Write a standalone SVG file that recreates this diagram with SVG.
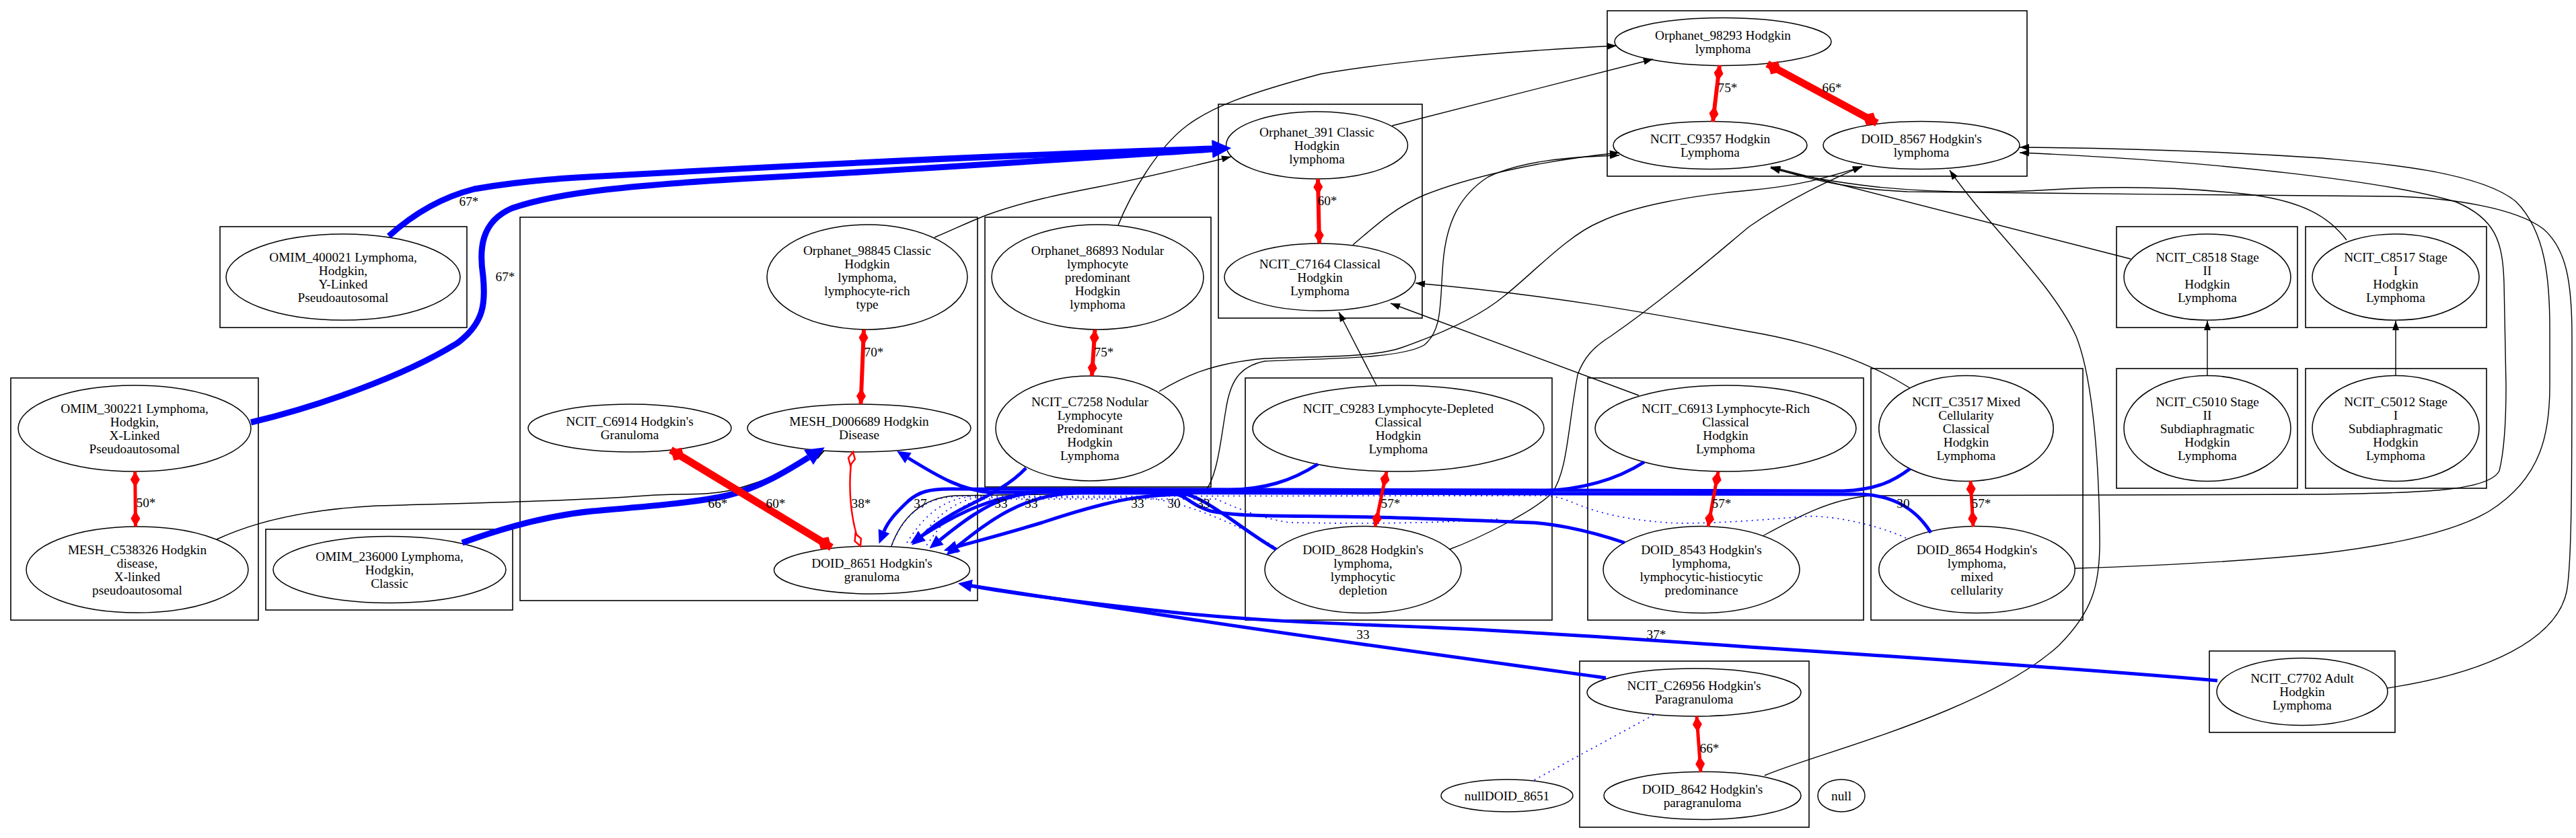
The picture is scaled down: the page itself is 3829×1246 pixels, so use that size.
<svg xmlns="http://www.w3.org/2000/svg" width="3829" height="1246" viewBox="0 0 3829 1246">
<style>
.cl{fill:none;stroke:#000;stroke-width:1.6}
.n ellipse{fill:none;stroke:#000;stroke-width:1.5}
text{font-family:"Liberation Serif","Times New Roman",serif;font-size:19.3px;text-anchor:middle;fill:#000}
.k{fill:none;stroke:#000;stroke-width:1.4;marker-end:url(#ak)}
.b{fill:none;stroke:#0000ff;stroke-width:5;marker-end:url(#ab)}
.bb{fill:none;stroke:#0000ff;stroke-width:9;marker-end:url(#abb)}
.bn{fill:none;stroke:#0000ff;stroke-width:5}
.d{fill:none;stroke:#0000ff;stroke-width:1.6;stroke-dasharray:2 6}
.r{fill:none;stroke:#ff0000;stroke-width:6;marker-start:url(#ds);marker-end:url(#de)}
.rt{fill:none;stroke:#ff0000;stroke-width:11;marker-start:url(#dts);marker-end:url(#dte)}
.ro{fill:none;stroke:#ff0000;stroke-width:2.5;marker-start:url(#dos);marker-end:url(#doe)}
</style>
<defs>
<marker id="ak" markerUnits="userSpaceOnUse" orient="auto" refX="14" refY="0" markerWidth="16" markerHeight="12" overflow="visible"><path d="M0,-5 L14,0 L0,5 Z" fill="#000"/></marker>
<marker id="ab" markerUnits="userSpaceOnUse" orient="auto" refX="0" refY="0" markerWidth="22" markerHeight="20" overflow="visible"><path d="M0,-9 L20,0 L0,9 Z" fill="#0000ff"/></marker>
<marker id="abb" markerUnits="userSpaceOnUse" orient="auto" refX="0" refY="0" markerWidth="30" markerHeight="28" overflow="visible"><path d="M0,-13 L28,0 L0,13 Z" fill="#0000ff"/></marker>
<marker id="ds" markerUnits="userSpaceOnUse" orient="auto" refX="0" refY="0" markerWidth="26" markerHeight="16" overflow="visible"><path d="M0,0 L12,-7 L24,0 L12,7 Z" fill="#ff0000"/></marker>
<marker id="de" markerUnits="userSpaceOnUse" orient="auto" refX="24" refY="0" markerWidth="26" markerHeight="16" overflow="visible"><path d="M0,0 L12,-7 L24,0 L12,7 Z" fill="#ff0000"/></marker>
<marker id="dts" markerUnits="userSpaceOnUse" orient="auto" refX="0" refY="0" markerWidth="26" markerHeight="26" overflow="visible"><path d="M0,0 L12,-11 L24,0 L12,11 Z" fill="#ff0000"/></marker>
<marker id="dte" markerUnits="userSpaceOnUse" orient="auto" refX="24" refY="0" markerWidth="26" markerHeight="26" overflow="visible"><path d="M0,0 L12,-11 L24,0 L12,11 Z" fill="#ff0000"/></marker>
<marker id="dos" markerUnits="userSpaceOnUse" orient="auto" refX="0" refY="0" markerWidth="24" markerHeight="14" overflow="visible"><path d="M0,0 L10,-5 L20,0 L10,5 Z" fill="#fff" stroke="#ff0000" stroke-width="2.5"/></marker>
<marker id="doe" markerUnits="userSpaceOnUse" orient="auto" refX="20" refY="0" markerWidth="24" markerHeight="14" overflow="visible"><path d="M0,0 L10,-5 L20,0 L10,5 Z" fill="#fff" stroke="#ff0000" stroke-width="2.5"/></marker>
</defs>
<rect width="3829" height="1246" fill="#fff"/>
<g id="clusters">
<rect class="cl" x="2389" y="16" width="624" height="246"/>
<rect class="cl" x="1811" y="155" width="303" height="318"/>
<rect class="cl" x="327" y="337" width="367" height="150"/>
<rect class="cl" x="16" y="562" width="368" height="360"/>
<rect class="cl" x="395" y="787" width="367" height="120"/>
<rect class="cl" x="773" y="323" width="680" height="570"/>
<rect class="cl" x="1464" y="323" width="336" height="401"/>
<rect class="cl" x="1851" y="562" width="456" height="360"/>
<rect class="cl" x="2360" y="562" width="410" height="360"/>
<rect class="cl" x="2781" y="548" width="315" height="374"/>
<rect class="cl" x="3146" y="337" width="269" height="150"/>
<rect class="cl" x="3427" y="337" width="269" height="150"/>
<rect class="cl" x="3146" y="548" width="269" height="178"/>
<rect class="cl" x="3427" y="548" width="269" height="178"/>
<rect class="cl" x="3284" y="968" width="276" height="121"/>
<rect class="cl" x="2348" y="983" width="341" height="247"/>
</g>
<g id="nodes">
<g id="Orphanet_98293" class="n"><ellipse cx="2561" cy="62" rx="161" ry="35.5"/><text x="2561" y="58.5">Orphanet_98293 Hodgkin<tspan x="2561" dy="20">lymphoma</tspan></text></g>
<g id="NCIT_C9357" class="n"><ellipse cx="2542" cy="216" rx="144" ry="35.5"/><text x="2542" y="212.5">NCIT_C9357 Hodgkin<tspan x="2542" dy="20">Lymphoma</tspan></text></g>
<g id="DOID_8567" class="n"><ellipse cx="2856" cy="216" rx="146" ry="35.5"/><text x="2856" y="212.5">DOID_8567 Hodgkin's<tspan x="2856" dy="20">lymphoma</tspan></text></g>
<g id="Orphanet_391" class="n"><ellipse cx="1957.5" cy="216" rx="135" ry="50"/><text x="1957.5" y="202.5">Orphanet_391 Classic<tspan x="1957.5" dy="20">Hodgkin</tspan><tspan x="1957.5" dy="20">lymphoma</tspan></text></g>
<g id="NCIT_C7164" class="n"><ellipse cx="1962" cy="412" rx="142" ry="50"/><text x="1962" y="398.5">NCIT_C7164 Classical<tspan x="1962" dy="20">Hodgkin</tspan><tspan x="1962" dy="20">Lymphoma</tspan></text></g>
<g id="OMIM_400021" class="n"><ellipse cx="510" cy="412" rx="174" ry="64"/><text x="510" y="388.5">OMIM_400021 Lymphoma,<tspan x="510" dy="20">Hodgkin,</tspan><tspan x="510" dy="20">Y-Linked</tspan><tspan x="510" dy="20">Pseudoautosomal</tspan></text></g>
<g id="OMIM_300221" class="n"><ellipse cx="200" cy="637" rx="173" ry="64"/><text x="200" y="613.5">OMIM_300221 Lymphoma,<tspan x="200" dy="20">Hodgkin,</tspan><tspan x="200" dy="20">X-Linked</tspan><tspan x="200" dy="20">Pseudoautosomal</tspan></text></g>
<g id="MESH_C538326" class="n"><ellipse cx="204" cy="847" rx="165" ry="64"/><text x="204" y="823.5">MESH_C538326 Hodgkin<tspan x="204" dy="20">disease,</tspan><tspan x="204" dy="20">X-linked</tspan><tspan x="204" dy="20">pseudoautosomal</tspan></text></g>
<g id="OMIM_236000" class="n"><ellipse cx="579" cy="847" rx="173" ry="49.5"/><text x="579" y="833.5">OMIM_236000 Lymphoma,<tspan x="579" dy="20">Hodgkin,</tspan><tspan x="579" dy="20">Classic</tspan></text></g>
<g id="Orphanet_98845" class="n"><ellipse cx="1289" cy="412" rx="149" ry="78"/><text x="1289" y="378.5">Orphanet_98845 Classic<tspan x="1289" dy="20">Hodgkin</tspan><tspan x="1289" dy="20">lymphoma,</tspan><tspan x="1289" dy="20">lymphocyte-rich</tspan><tspan x="1289" dy="20">type</tspan></text></g>
<g id="NCIT_C6914" class="n"><ellipse cx="936" cy="636.5" rx="151" ry="35.5"/><text x="936" y="633">NCIT_C6914 Hodgkin's<tspan x="936" dy="20">Granuloma</tspan></text></g>
<g id="MESH_D006689" class="n"><ellipse cx="1277" cy="636.5" rx="166" ry="35.5"/><text x="1277" y="633">MESH_D006689 Hodgkin<tspan x="1277" dy="20">Disease</tspan></text></g>
<g id="DOID_8651" class="n"><ellipse cx="1296" cy="847.5" rx="145.5" ry="35.5"/><text x="1296" y="844">DOID_8651 Hodgkin's<tspan x="1296" dy="20">granuloma</tspan></text></g>
<g id="Orphanet_86893" class="n"><ellipse cx="1631.5" cy="412" rx="157.5" ry="78"/><text x="1631.5" y="378.5">Orphanet_86893 Nodular<tspan x="1631.5" dy="20">lymphocyte</tspan><tspan x="1631.5" dy="20">predominant</tspan><tspan x="1631.5" dy="20">Hodgkin</tspan><tspan x="1631.5" dy="20">lymphoma</tspan></text></g>
<g id="NCIT_C7258" class="n"><ellipse cx="1620" cy="637" rx="140" ry="78"/><text x="1620" y="603.5">NCIT_C7258 Nodular<tspan x="1620" dy="20">Lymphocyte</tspan><tspan x="1620" dy="20">Predominant</tspan><tspan x="1620" dy="20">Hodgkin</tspan><tspan x="1620" dy="20">Lymphoma</tspan></text></g>
<g id="NCIT_C9283" class="n"><ellipse cx="2078.5" cy="637" rx="216.5" ry="64"/><text x="2078.5" y="613.5">NCIT_C9283 Lymphocyte-Depleted<tspan x="2078.5" dy="20">Classical</tspan><tspan x="2078.5" dy="20">Hodgkin</tspan><tspan x="2078.5" dy="20">Lymphoma</tspan></text></g>
<g id="DOID_8628" class="n"><ellipse cx="2026" cy="847" rx="146" ry="64.5"/><text x="2026" y="823.5">DOID_8628 Hodgkin's<tspan x="2026" dy="20">lymphoma,</tspan><tspan x="2026" dy="20">lymphocytic</tspan><tspan x="2026" dy="20">depletion</tspan></text></g>
<g id="NCIT_C6913" class="n"><ellipse cx="2565" cy="637" rx="194" ry="64"/><text x="2565" y="613.5">NCIT_C6913 Lymphocyte-Rich<tspan x="2565" dy="20">Classical</tspan><tspan x="2565" dy="20">Hodgkin</tspan><tspan x="2565" dy="20">Lymphoma</tspan></text></g>
<g id="DOID_8543" class="n"><ellipse cx="2529" cy="847" rx="146" ry="64.5"/><text x="2529" y="823.5">DOID_8543 Hodgkin's<tspan x="2529" dy="20">lymphoma,</tspan><tspan x="2529" dy="20">lymphocytic-histiocytic</tspan><tspan x="2529" dy="20">predominance</tspan></text></g>
<g id="NCIT_C3517" class="n"><ellipse cx="2922.5" cy="637" rx="129.7" ry="78.5"/><text x="2922.5" y="603.5">NCIT_C3517 Mixed<tspan x="2922.5" dy="20">Cellularity</tspan><tspan x="2922.5" dy="20">Classical</tspan><tspan x="2922.5" dy="20">Hodgkin</tspan><tspan x="2922.5" dy="20">Lymphoma</tspan></text></g>
<g id="DOID_8654" class="n"><ellipse cx="2938.5" cy="847" rx="145.7" ry="64.5"/><text x="2938.5" y="823.5">DOID_8654 Hodgkin's<tspan x="2938.5" dy="20">lymphoma,</tspan><tspan x="2938.5" dy="20">mixed</tspan><tspan x="2938.5" dy="20">cellularity</tspan></text></g>
<g id="NCIT_C8518" class="n"><ellipse cx="3281" cy="412" rx="124" ry="64"/><text x="3281" y="388.5">NCIT_C8518 Stage<tspan x="3281" dy="20">II</tspan><tspan x="3281" dy="20">Hodgkin</tspan><tspan x="3281" dy="20">Lymphoma</tspan></text></g>
<g id="NCIT_C8517" class="n"><ellipse cx="3561" cy="412" rx="124" ry="64"/><text x="3561" y="388.5">NCIT_C8517 Stage<tspan x="3561" dy="20">I</tspan><tspan x="3561" dy="20">Hodgkin</tspan><tspan x="3561" dy="20">Lymphoma</tspan></text></g>
<g id="NCIT_C5010" class="n"><ellipse cx="3281" cy="637" rx="124" ry="78.5"/><text x="3281" y="603.5">NCIT_C5010 Stage<tspan x="3281" dy="20">II</tspan><tspan x="3281" dy="20">Subdiaphragmatic</tspan><tspan x="3281" dy="20">Hodgkin</tspan><tspan x="3281" dy="20">Lymphoma</tspan></text></g>
<g id="NCIT_C5012" class="n"><ellipse cx="3561" cy="637" rx="124" ry="78.5"/><text x="3561" y="603.5">NCIT_C5012 Stage<tspan x="3561" dy="20">I</tspan><tspan x="3561" dy="20">Subdiaphragmatic</tspan><tspan x="3561" dy="20">Hodgkin</tspan><tspan x="3561" dy="20">Lymphoma</tspan></text></g>
<g id="NCIT_C7702" class="n"><ellipse cx="3422" cy="1028.5" rx="127" ry="50"/><text x="3422" y="1015">NCIT_C7702 Adult<tspan x="3422" dy="20">Hodgkin</tspan><tspan x="3422" dy="20">Lymphoma</tspan></text></g>
<g id="NCIT_C26956" class="n"><ellipse cx="2518" cy="1029.5" rx="159" ry="35.5"/><text x="2518" y="1026">NCIT_C26956 Hodgkin's<tspan x="2518" dy="20">Paragranuloma</tspan></text></g>
<g id="DOID_8642" class="n"><ellipse cx="2530.5" cy="1183" rx="146.5" ry="35.5"/><text x="2530.5" y="1179.5">DOID_8642 Hodgkin's<tspan x="2530.5" dy="20">paragranuloma</tspan></text></g>
<g id="nullDOID_8651" class="n"><ellipse cx="2240" cy="1183" rx="98" ry="24"/><text x="2240" y="1189.5">nullDOID_8651</text></g>
<g id="null" class="n"><ellipse cx="2737" cy="1183" rx="35" ry="24"/><text x="2737" y="1189.5">null</text></g>
</g>
<g id="connectors">
<!-- black is_a edges -->
<path class="k" d="M322,802 C380,775 460,757 560,752 C700,748 850,745 960,737 C1010,733 1050,738 1090,728 C1140,715 1190,692 1225,671"/>
<path class="k" d="M1389,353 C1420,340 1440,330 1466,320 C1520,300 1580,288 1632,278 C1700,265 1760,250 1830,233"/>
<path class="k" d="M1662,335 C1680,290 1720,220 1764,187 C1800,160 1850,140 1963,110 C2050,95 2200,78 2403,68"/>
<path class="k" d="M2069,187 L2457,88"/>
<path class="k" d="M2011,364 C2040,340 2070,310 2117,290 C2180,265 2280,240 2407,227"/>
<path class="k" d="M1325,812 C1340,770 1370,740 1420,737 L1790,732 C1810,710 1815,650 1822,610 C1828,570 1840,545 1880,537 C1950,533 2080,535 2117,513 C2145,490 2140,450 2145,390 C2150,330 2170,290 2212,263 C2260,240 2330,233 2407,231"/>
<path class="k" d="M1723,582 C1760,560 1800,540 1880,533 C1950,530 2040,532 2083,517 C2140,497 2200,470 2236,440 C2280,405 2330,350 2378,330 C2430,305 2520,290 2600,283 C2680,276 2720,262 2768,248"/>
<path class="k" d="M2154,817 C2200,800 2280,760 2307,733 C2330,700 2330,640 2345,557 C2355,530 2370,515 2394,500 C2480,440 2560,370 2600,337 C2660,295 2720,268 2768,247"/>
<path class="k" d="M2623,1153 C2700,1120 2950,1060 3060,960 C3110,910 3122,870 3121,800 C3120,680 3110,560 3086,500 C3050,420 2950,330 2898,253"/>
<path class="k" d="M3084,845 C3250,840 3380,830 3450,823 C3560,810 3650,790 3700,760 C3780,710 3790,640 3790,574 L3790,489 C3790,420 3785,345 3740,300 C3680,250 3500,240 3450,235 C3300,225 3150,220 3002,219"/>
<path class="k" d="M2620,797 C2670,770 2720,742 2780,737 L3450,735 C3600,733 3700,730 3715,700 C3725,660 3725,600 3725,574 L3722,420 C3720,360 3710,325 3650,300 C3550,270 3300,240 3002,227"/>
<path class="k" d="M3549,1023 C3700,1000 3800,950 3815,880 C3823,840 3823,700 3823,500 C3823,420 3815,370 3780,340 C3740,310 3650,295 3563,292 C3400,290 3000,288 2835,285 C2760,282 2700,270 2632,249"/>
<path class="k" d="M3488,357 C3460,320 3420,300 3350,290 C3250,278 3150,276 3050,282 C2950,288 2860,285 2790,278 C2720,270 2680,262 2632,250"/>
<path class="k" d="M3167,385 L2632,248"/>
<path class="k" d="M3281,558 L3281,477"/>
<path class="k" d="M3561,558 L3561,477"/>
<path class="k" d="M2046,573 L1990,464"/>
<path class="k" d="M2436,588 L2067,451"/>
<path class="k" d="M2839,577 C2780,540 2700,510 2600,493 C2450,465 2300,438 2104,421"/>
<!-- blue dotted -->
<path class="d" d="M2833,800 C2790,780 2720,765 2680,768 C2600,775 2520,780 2475,777 C2420,772 2380,765 2340,748 C2320,740 2310,737 2290,737 L1450,738 C1400,740 1370,770 1345,812"/>
<path class="d" d="M1893,812 C1840,780 1760,745 1700,740 L1450,740 C1410,748 1380,780 1360,812"/>
<path class="d" d="M2226,772 C2100,780 1980,778 1917,777 C1870,770 1830,752 1808,742 L1460,742 C1420,750 1395,785 1375,814"/>
<path class="d" d="M1440,738 C1380,735 1345,760 1325,812"/>
<path class="d" d="M2458,1063 L2280,1160"/>
<!-- blue mapping edges -->
<path class="bb" d="M578,351 C610,322 650,295 705,281 C780,268 850,264 912,261 C1200,245 1500,230 1802,221"/>
<path class="bb" d="M373,628 C470,605 600,560 680,510 C720,480 722,450 718,410 C712,370 715,330 760,310 C830,285 950,275 1100,266 C1400,250 1650,232 1802,222"/>
<path class="bb" d="M687,807 C720,795 800,768 880,760 C960,753 1030,748 1080,737 C1130,725 1170,700 1202,680"/>
<path class="b" d="M2387,1008 C2200,982 1900,942 1700,910 C1580,892 1500,880 1444,871"/>
<path class="b" d="M3296,1012 C3100,995 2800,975 2600,962 C2400,948 2250,938 2129,933 C1950,926 1850,922 1740,910 C1600,895 1500,882 1444,871"/>
<path class="b" d="M2839,697 C2815,715 2790,728 2740,730 L1420,727 C1380,726 1365,732 1350,745 C1332,762 1320,775 1314,790"/>
<path class="b" d="M2870,792 C2850,760 2820,738 2770,735 L1470,732 C1430,728 1400,712 1350,681"/>
<path class="b" d="M2444,687 C2400,715 2350,728 2290,730 L1560,730 C1490,732 1450,760 1397,803"/>
<path class="b" d="M1959,690 C1920,715 1880,728 1820,729 L1560,731 C1480,733 1420,765 1370,797"/>
<path class="b" d="M1525,696 C1495,728 1450,745 1420,762 C1395,776 1380,788 1370,797"/>
<path class="b" d="M1897,817 C1850,790 1800,745 1764,735 C1700,735 1660,745 1640,750 C1600,760 1570,770 1549,777 C1490,795 1450,805 1422,813"/>
<path class="b" d="M2415,807 C2350,785 2300,778 2275,777 C2150,772 2050,768 1977,768 C1900,767 1840,768 1800,760 C1770,752 1765,736 1740,733 L1600,733 C1520,735 1470,775 1422,813"/>
<!-- red equivalence edges -->
<path class="r" d="M2556,97 L2546,181"/>
<path class="rt" d="M2627,95 L2790,183"/>
<path class="r" d="M1959,266 L1961,362"/>
<path class="r" d="M1284,490 L1279.5,601"/>
<path class="rt" d="M997,669 L1236,814"/>
<path class="ro" d="M1268,672 C1260,710 1262,770 1279,812"/>
<path class="r" style="stroke-width:5" d="M200.7,701 L201.5,783"/>
<path class="r" d="M1627.5,490 L1623,559"/>
<path class="r" style="stroke-width:5" d="M2061,701 L2044,783"/>
<path class="r" style="stroke-width:5" d="M2554,701 L2539,783"/>
<path class="r" style="stroke-width:5" d="M2929,715 L2933,783"/>
<path class="r" style="stroke-width:5" d="M2522,1065 L2528,1148"/>
</g>
<g id="edge-labels">
<text x="697" y="305.5">67*</text>
<text x="751" y="417.5">67*</text>
<text x="1067" y="754.5">66*</text>
<text x="1153" y="754.5">60*</text>
<text x="1280" y="754.5">38*</text>
<text x="1299" y="529.5">70*</text>
<text x="217" y="753.5">50*</text>
<text x="1641" y="529.5">75*</text>
<text x="1368" y="754.5">37</text>
<text x="1488" y="754.5">33</text>
<text x="1533" y="754.5">33</text>
<text x="1691" y="754.5">33</text>
<text x="1745" y="754.5">30</text>
<text x="1789" y="754.5">33</text>
<text x="2067" y="754.5">57*</text>
<text x="2559" y="754.5">57*</text>
<text x="2829" y="754.5">30</text>
<text x="2945" y="754.5">57*</text>
<text x="1973" y="304.5">60*</text>
<text x="2568" y="136.5">75*</text>
<text x="2723" y="136.5">66*</text>
<text x="2026" y="949.5">33</text>
<text x="2462" y="949.5">37*</text>
<text x="2541" y="1118.5">66*</text>
</g>
</svg>
